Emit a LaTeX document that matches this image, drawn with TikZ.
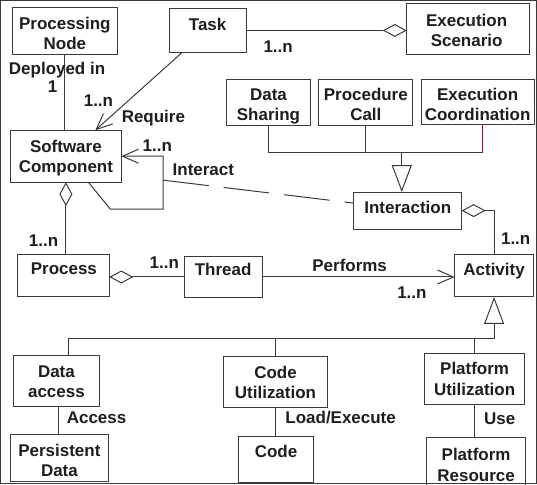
\documentclass[tikz,border=0pt]{standalone}
\usepackage{fontspec}
\setmainfont{Liberation Sans}
\usetikzlibrary{arrows.meta,calc}
\definecolor{ln}{HTML}{3A3A3A}
\definecolor{tx}{HTML}{1E1E1E}
\definecolor{rd}{HTML}{7A2040}
\begin{document}
\begin{tikzpicture}[x=1pt,y=-1pt, line width=1pt,
  every path/.style={draw=ln},
  box/.style={draw=ln, line width=1pt, inner sep=0pt, outer sep=0pt},
  txt/.style={text=tx, font=\fontsize{17}{20}\selectfont\bfseries, inner sep=0pt, anchor=base},
  lbl/.style={txt, anchor=base west},
  diastart/.style={{Diamond[open,length=24pt,width=13pt]}-},
  diaend/.style={-{Diamond[open,length=24pt,width=13pt]}},
  barb/.style={-{Straight Barb[length=16pt,width=14pt]}},
  gen/.style={-{Triangle[open,length=27pt,width=20pt]}}]
\useasboundingbox (0,0) rectangle (537,484);

% boxes
\node[box, minimum width=105pt, minimum height=47pt] (pn) at (64.5,30.5) {};
\node[box, minimum width=77pt, minimum height=44pt] (task) at (207.5,30) {};
\node[box, minimum width=123pt, minimum height=51pt] (es) at (468.5,28.5) {};
\node[box, minimum width=85pt, minimum height=46pt] (ds) at (268.5,102) {};
\node[box, minimum width=94pt, minimum height=46pt] (pc) at (366,102) {};
\node[box, minimum width=113pt, minimum height=45pt] (ec) at (478.5,101.5) {};
\node[box, minimum width=111pt, minimum height=52pt] (sc) at (65.5,156) {};
\node[box, minimum width=108pt, minimum height=37pt] (inter) at (408,210.5) {};
\node[box, minimum width=92pt, minimum height=43pt] (proc) at (63,275.5) {};
\node[box, minimum width=78pt, minimum height=42pt] (thr) at (223,277) {};
\node[box, minimum width=79pt, minimum height=43pt] (act) at (494.5,275.5) {};
\node[box, minimum width=86pt, minimum height=51pt] (da) at (56,381.5) {};
\node[box, minimum width=105pt, minimum height=51pt] (cu) at (275.5,382.5) {};
\node[box, minimum width=100pt, minimum height=51pt] (pu) at (475,379.5) {};
\node[box, minimum width=98pt, minimum height=47pt] (pd) at (59,458.5) {};
\node[box, minimum width=76pt, minimum height=46pt] (code) at (276,460) {};
\node[box, minimum width=99pt, minimum height=52pt] (pr) at (476.5,464) {};

% box texts
\node[txt] (pn-a) at (64.5,29.5) {Processing};
\node[txt] (pn-b) at (64.5,49.5) {Node};
\node[txt] (task-a) at (207.5,30) {Task};
\node[txt] (es-a) at (467,26) {Execution};
\node[txt] (es-b) at (467,46) {Scenario};
\node[txt] (ds-a) at (268.5,100) {Data};
\node[txt] (ds-b) at (268.5,120) {Sharing};
\node[txt] (pc-a) at (366,100) {Procedure};
\node[txt] (pc-b) at (366,120) {Call};
\node[txt] (ec-a) at (478,100) {Execution};
\node[txt] (ec-b) at (478,120) {Coordination};
\node[txt] (sc-a) at (65.5,152) {Software};
\node[txt] (sc-b) at (65.5,172) {Component};
\node[txt] (inter-a) at (408,213) {Interaction};
\node[txt] (proc-a) at (63.5,275) {Process};
\node[txt] (thr-a) at (223,276) {Thread};
\node[txt] (act-a) at (494.5,276) {Activity};
\node[txt] (da-a) at (56,378) {Data};
\node[txt] (da-b) at (56,398) {access};
\node[txt] (cu-a) at (275.5,379) {Code};
\node[txt] (cu-b) at (275.5,399) {Utilization};
\node[txt] (pu-a) at (475,375) {Platform};
\node[txt] (pu-b) at (475,396) {Utilization};
\node[txt] (pd-a) at (59,457) {Persistent};
\node[txt] (pd-b) at (59,477) {Data};
\node[txt] (code-a) at (276,458) {Code};
\node[txt] (pr-a) at (476.5,461) {Platform};
\node[txt] (pr-b) at (476.5,482) {Resource};

% connectors
\draw (pn.south) -- (pn.south |- sc.north);
\draw[barb] ($(task.south west)+(13,0)$) -- ($(sc.north west)+(85,0)$);
\draw[diaend] (task.east) -- (es.west |- task.east);

\coordinate (bus) at (402,152);
\coordinate (ecb) at ($(ec.south)+(4.5,0)$);
\draw (ds.south) |- (bus);
\draw (pc.south) -- (pc.south |- bus);
\draw (bus) -| (ecb);
\draw[rd] (ecb) -- (ecb |- bus);
\draw[gen] (bus) -- (inter.north -| bus);

\coordinate (l1) at (110,209);
\coordinate (l2) at (163,209);
\coordinate (l3) at (163,156);
\coordinate (dstart) at (163,180);
\draw[barb] ($(sc.south west)+(78,0)$) -- (l1) -- (l2) -- (l3) -- (sc.east);
\draw[dash pattern=on 46pt off 15pt] (dstart) -- ($(inter.west)+(0,-7.5)$);

\draw[diastart] (sc.south) -- (sc.south |- proc.north);
\draw[diaend] (thr.west) -- (thr.west -| proc.east);
\draw[barb] (thr.east) -- (thr.east -| act.west);
\draw[diastart] (inter.east) -| (act.north);

\coordinate (bus2) at (494.5,339);
\coordinate (dab) at ($(da.south)+(2,0)$);
\draw[gen] (bus2) -- (act.south);
\draw ($(da.north)+(12,0)$) |- (bus2);
\draw (cu.north) -- (cu.north |- bus2);
\draw (pu.north) -- (pu.north |- bus2);
\draw (dab) -- (dab |- pd.north);
\draw (cu.south) -- (cu.south |- code.north);
\draw (pu.south) -- (pu.south |- pr.north);

% labels
\node[lbl] (l-dep) at (8,74) {Deployed in};
\node[lbl] (l-one) at (47,92) {1};
\node[lbl] (l-reqn) at (83,106) {1..n};
\node[lbl] (l-req) at (121,122) {Require};
\node[lbl] (l-scn) at (142,151) {1..n};
\node[lbl] (l-int) at (172,175) {Interact};
\node[lbl] (l-esn) at (263,52) {1..n};
\node[lbl] (l-pn) at (28,246) {1..n};
\node[lbl] (l-thn) at (149,268) {1..n};
\node[lbl] (l-perf) at (312,271) {Performs};
\node[lbl] (l-actn) at (397,299) {1..n};
\node[lbl] (l-intn) at (501,244) {1..n};
\node[lbl] (l-acc) at (66,424) {Access};
\node[lbl] (l-load) at (285,424) {Load/Execute};
\node[lbl] (l-use) at (484,425) {Use};
\end{tikzpicture}
\end{document}
